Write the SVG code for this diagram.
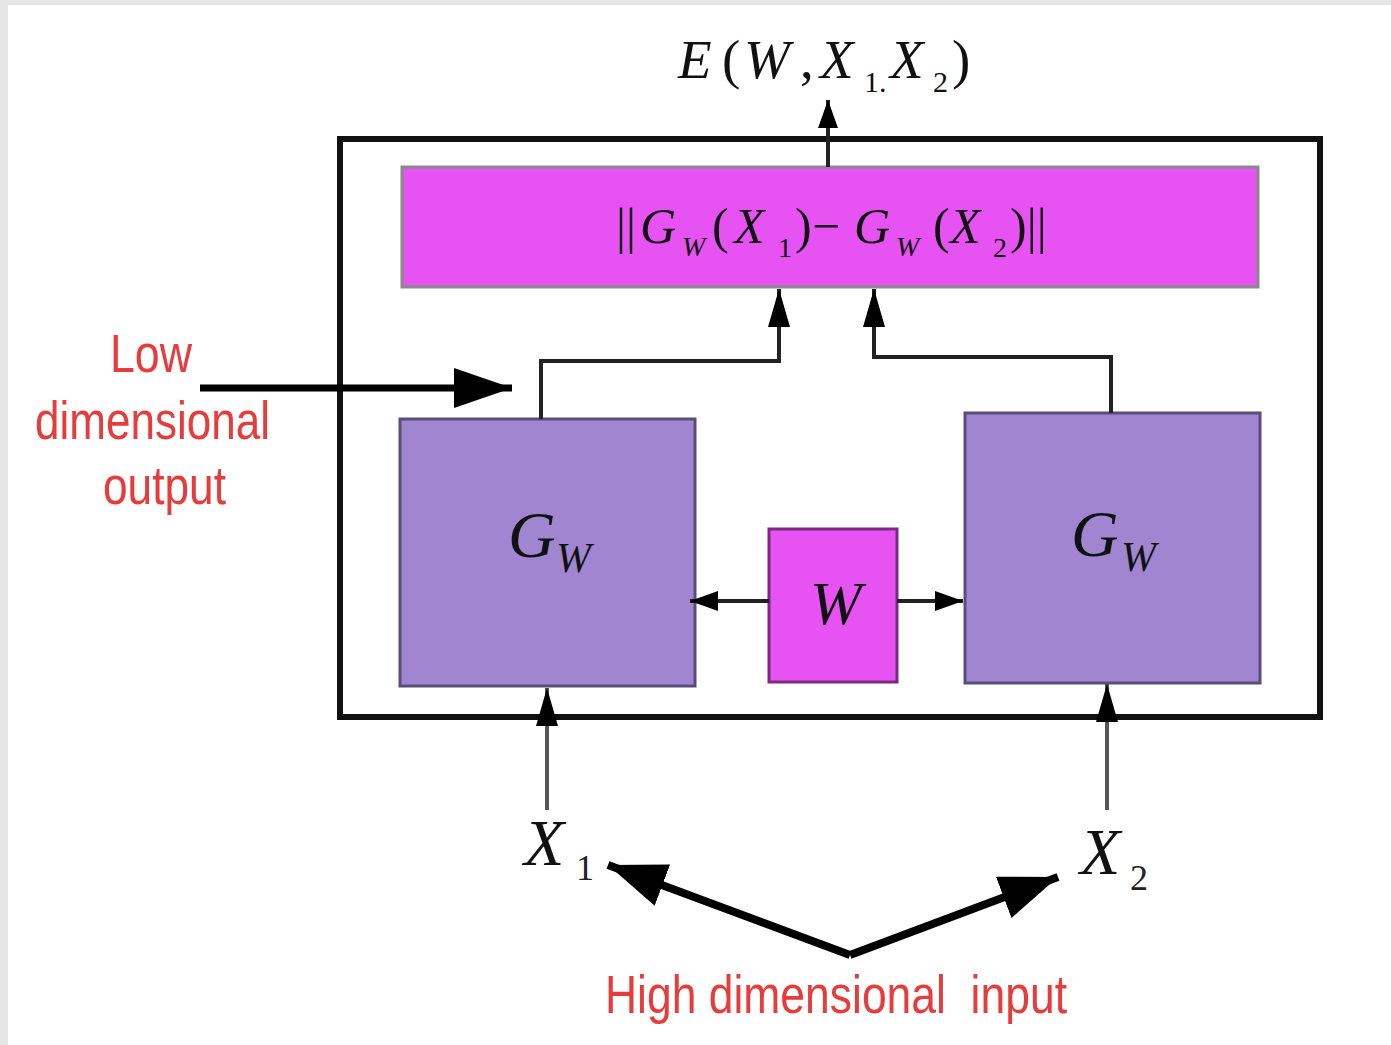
<svg xmlns="http://www.w3.org/2000/svg" width="1391" height="1045" viewBox="0 0 1391 1045">
<style>
.math{font-family:"Liberation Serif","DejaVu Serif",serif;font-style:italic;fill:#111}
.dig{font-family:"Liberation Serif","DejaVu Serif",serif;font-style:normal;fill:#222}
.red{font-family:"Liberation Sans","Arial",sans-serif;fill:#e63c3c;white-space:pre}
.conn{fill:none;stroke:#222;stroke-width:4}
.thick{fill:none;stroke:#000}
.gw{fill:#a085d0;stroke:#5a4d78;stroke-width:3}
.mag{fill:#e653f2}
</style>
<defs>
<marker id="ah" markerUnits="userSpaceOnUse" markerWidth="38" markerHeight="22" refX="38" refY="11" orient="auto"><path d="M0,0 L38,11 L0,22 z" fill="#000"/></marker>
<marker id="ahs" markerUnits="userSpaceOnUse" markerWidth="28" markerHeight="20" refX="28" refY="10" orient="auto"><path d="M0,0 L28,10 L0,20 z" fill="#000"/></marker>
<marker id="big" markerUnits="userSpaceOnUse" markerWidth="58" markerHeight="40" refX="58" refY="20" orient="auto"><path d="M0,0 L58,20 L0,40 z" fill="#000"/></marker>
<marker id="vh" markerUnits="userSpaceOnUse" markerWidth="58" markerHeight="44" refX="58" refY="22" orient="auto"><path d="M0,0 L58,22 L0,44 z" fill="#000"/></marker>
</defs>
<rect x="0" y="0" width="1391" height="1045" fill="#e6e6e6"/>
<rect x="8" y="5" width="1383" height="1040" fill="#fff"/>

<g id="outer"><rect x="340" y="139" width="980" height="578" fill="none" stroke="#111" stroke-width="6"/></g>

<g id="norm">
<rect class="mag" x="402" y="167" width="856" height="120" stroke="#8a8a8a" stroke-width="3"/>
<text class="math" font-size="50" y="243"><tspan x="616" font-style="normal">||</tspan><tspan x="640">G</tspan><tspan x="682" y="256" font-size="28">W</tspan><tspan x="712" y="243" font-style="normal">(</tspan><tspan x="734">X</tspan><tspan x="778" y="257" font-size="28" font-style="normal">1</tspan><tspan x="795" y="243" font-style="normal">)</tspan><tspan x="812" font-style="normal">−</tspan><tspan x="854">G</tspan><tspan x="896" y="256" font-size="28">W</tspan><tspan x="933" y="243" font-style="normal">(</tspan><tspan x="950">X</tspan><tspan x="993" y="257" font-size="28" font-style="normal">2</tspan><tspan x="1010" y="243" font-style="normal">)||</tspan></text>
</g>

<g id="gw-left">
<rect class="gw" x="400" y="419" width="295" height="267"/>
<text class="math" font-size="66" x="508" y="557">G</text>
<text class="math" font-size="42" x="556" y="572">W</text>
</g>

<g id="gw-right">
<rect class="gw" x="965" y="413" width="295" height="270"/>
<text class="math" font-size="66" x="1071" y="556">G</text>
<text class="math" font-size="42" x="1121" y="571">W</text>
</g>

<g id="w">
<rect class="mag" x="769" y="529" width="128" height="153" stroke="#7a2a80" stroke-width="3"/>
<text class="math" font-size="62" x="810" y="624">W</text>
</g>

<g id="energy">
<text class="math" font-size="55" y="78"><tspan x="678">E</tspan><tspan x="722" font-style="normal">(</tspan><tspan x="744">W</tspan><tspan x="800" font-style="normal">,</tspan><tspan x="820">X</tspan><tspan x="864" y="92" font-size="30" font-style="normal">1.</tspan><tspan x="890" y="78">X</tspan><tspan x="933" y="92" font-size="30" font-style="normal">2</tspan><tspan x="952" y="78" font-style="normal">)</tspan></text>
</g>

<g id="x1"><text class="math" font-size="66" x="524" y="865">X</text><text class="dig" font-size="36" x="576" y="880">1</text></g>
<g id="x2"><text class="math" font-size="66" x="1080" y="874">X</text><text class="dig" font-size="36" x="1130" y="890">2</text></g>

<g id="label-low">
<text class="red" font-size="54" x="110" y="372" textLength="82" lengthAdjust="spacingAndGlyphs">Low</text>
<text class="red" font-size="54" x="35" y="439" textLength="235" lengthAdjust="spacingAndGlyphs">dimensional</text>
<text class="red" font-size="54" x="103" y="504" textLength="123" lengthAdjust="spacingAndGlyphs">output</text>
</g>
<g id="label-high">
<text class="red" font-size="54" x="605" y="1013" textLength="462" lengthAdjust="spacingAndGlyphs" xml:space="preserve">High dimensional  input</text>
</g>

<g id="connectors">
<polyline class="conn" points="541,419 541,361 779,361 779,289" marker-end="url(#ah)"/>
<polyline class="conn" points="1111,413 1111,357 874,357 874,289" marker-end="url(#ah)"/>
<line class="conn" x1="828" y1="167" x2="828" y2="100" marker-end="url(#ahs)"/>
<line class="conn" x1="769" y1="601" x2="690" y2="601" marker-end="url(#ahs)"/>
<line class="conn" x1="897" y1="601" x2="963" y2="601" marker-end="url(#ahs)"/>
<line class="conn" style="stroke:#555" x1="547" y1="810" x2="547" y2="688" marker-end="url(#ah)"/>
<line class="conn" style="stroke:#555" x1="1107" y1="810" x2="1107" y2="684" marker-end="url(#ah)"/>
<line class="thick" style="stroke-width:7" x1="200" y1="388" x2="512" y2="388" marker-end="url(#big)"/>
<line class="thick" style="stroke-width:8" x1="850" y1="955" x2="608" y2="865" marker-end="url(#vh)"/>
<line class="thick" style="stroke-width:8" x1="850" y1="955" x2="1058" y2="877" marker-end="url(#vh)"/>
</g>
</svg>
